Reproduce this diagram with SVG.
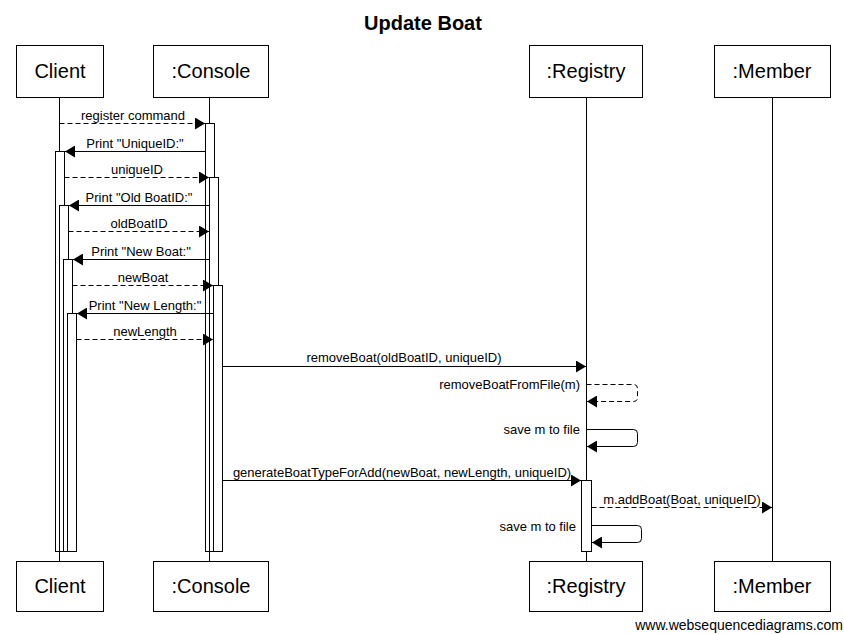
<svg xmlns="http://www.w3.org/2000/svg" width="844" height="634" viewBox="0 0 844 634">
<style>
text{font-family:"Liberation Sans",Arial,sans-serif;fill:#000}
.box{fill:#fff;stroke:#000;stroke-width:1}
.bl{font-size:20px;text-anchor:middle}
.life{stroke:#000;stroke-width:1;fill:none}
.act{fill:#fff;stroke:#000;stroke-width:1}
.m{stroke:#000;stroke-width:1;fill:none;marker-end:url(#ah)}
.d{stroke-dasharray:5,3}
.lb{font-size:13px;text-anchor:middle}
.lr{font-size:13px;text-anchor:end}
</style>
<defs>
<marker id="ah" viewBox="0 0 10 12" refX="10" refY="6" markerWidth="10" markerHeight="12" orient="auto" markerUnits="userSpaceOnUse"><path d="M0,0 L10,6 L0,12 z" fill="#000" stroke="none"/></marker>
</defs>
<rect width="844" height="634" fill="#fff"/>
<text x="423" y="30" style="font-size:20px;font-weight:bold;text-anchor:middle">Update Boat</text>

<g id="lifelines">
<line class="life" x1="59.5" y1="97" x2="59.5" y2="561"/>
<line class="life" x1="209.5" y1="97" x2="209.5" y2="561"/>
<line class="life" x1="586.5" y1="97" x2="586.5" y2="561"/>
<line class="life" x1="772.5" y1="97" x2="772.5" y2="561"/>
</g>

<g id="client">
<rect class="box" x="16.5" y="45.5" width="87" height="52"/>
<text class="bl" x="60" y="78">Client</text>
<rect class="box" x="16.5" y="561.5" width="87" height="50"/>
<text class="bl" x="60" y="593">Client</text>
<rect class="act" x="55.5" y="151.5" width="9" height="400"/>
<rect class="act" x="59.5" y="205.5" width="9" height="346"/>
<rect class="act" x="63.5" y="259.5" width="9" height="292"/>
<rect class="act" x="67.5" y="313.5" width="9" height="238"/>
</g>

<g id="console">
<rect class="box" x="153.5" y="45.5" width="115" height="52"/>
<text class="bl" x="211" y="78">:Console</text>
<rect class="box" x="153.5" y="561.5" width="115" height="50"/>
<text class="bl" x="211" y="593">:Console</text>
<rect class="act" x="205.5" y="123.5" width="9" height="428"/>
<rect class="act" x="209.5" y="177.5" width="9" height="374"/>
<rect class="act" x="213.5" y="285.5" width="9" height="266"/>
</g>

<g id="registry">
<rect class="box" x="529.5" y="45.5" width="113" height="52"/>
<text class="bl" x="586" y="78">:Registry</text>
<rect class="box" x="529.5" y="561.5" width="113" height="50"/>
<text class="bl" x="586" y="593">:Registry</text>
<rect class="act" x="581.5" y="480.5" width="10" height="71"/>
</g>

<g id="member">
<rect class="box" x="714.5" y="45.5" width="116" height="52"/>
<text class="bl" x="772" y="78">:Member</text>
<rect class="box" x="714.5" y="561.5" width="116" height="50"/>
<text class="bl" x="772" y="593">:Member</text>
</g>

<g id="connectors">
<line class="m d" x1="59.5" y1="123.5" x2="205" y2="123.5"/>
<text class="lb" x="133" y="120">register command</text>
<line class="m" x1="205.5" y1="151.5" x2="65" y2="151.5"/>
<text class="lb" x="135" y="148">Print "UniqueID:"</text>
<line class="m d" x1="64.5" y1="177.5" x2="209" y2="177.5"/>
<text class="lb" x="137" y="174">uniqueID</text>
<line class="m" x1="209.5" y1="205.5" x2="69" y2="205.5"/>
<text class="lb" x="139" y="202">Print "Old BoatID:"</text>
<line class="m d" x1="68.5" y1="231.5" x2="209" y2="231.5"/>
<text class="lb" x="139" y="228">oldBoatID</text>
<line class="m" x1="209.5" y1="259.5" x2="73" y2="259.5"/>
<text class="lb" x="141" y="256">Print "New Boat:"</text>
<line class="m d" x1="72.5" y1="285.5" x2="213" y2="285.5"/>
<text class="lb" x="143" y="282">newBoat</text>
<line class="m" x1="213.5" y1="313.5" x2="77" y2="313.5"/>
<text class="lb" x="145" y="310">Print "New Length:"</text>
<line class="m d" x1="76.5" y1="339.5" x2="213" y2="339.5"/>
<text class="lb" x="145" y="336">newLength</text>
<line class="m" x1="222.5" y1="366.5" x2="586" y2="366.5"/>
<text class="lb" x="404" y="362">removeBoat(oldBoatID, uniqueID)</text>
<path class="m d" d="M586.5,384.5 H633.5 Q637.5,384.5 637.5,388.5 V397.5 Q637.5,401.5 633.5,401.5 H587"/>
<text class="lr" x="580" y="389">removeBoatFromFile(m)</text>
<path class="m" d="M586.5,429.5 H633.5 Q637.5,429.5 637.5,433.5 V442.5 Q637.5,446.5 633.5,446.5 H587"/>
<text class="lr" x="580" y="434">save m to file</text>
<line class="m" x1="222.5" y1="480.5" x2="581" y2="480.5"/>
<text class="lb" x="402" y="477">generateBoatTypeForAdd(newBoat, newLength, uniqueID)</text>
<line class="m d" x1="591.5" y1="507.5" x2="772" y2="507.5"/>
<text class="lb" x="682" y="504">m.addBoat(Boat, uniqueID)</text>
<path class="m" d="M591.5,525.5 H637.5 Q641.5,525.5 641.5,529.5 V538.5 Q641.5,542.5 637.5,542.5 H592"/>
<text class="lr" x="576" y="531">save m to file</text>
</g>

<text x="843" y="630" style="font-size:14px;text-anchor:end">www.websequencediagrams.com</text>
</svg>
